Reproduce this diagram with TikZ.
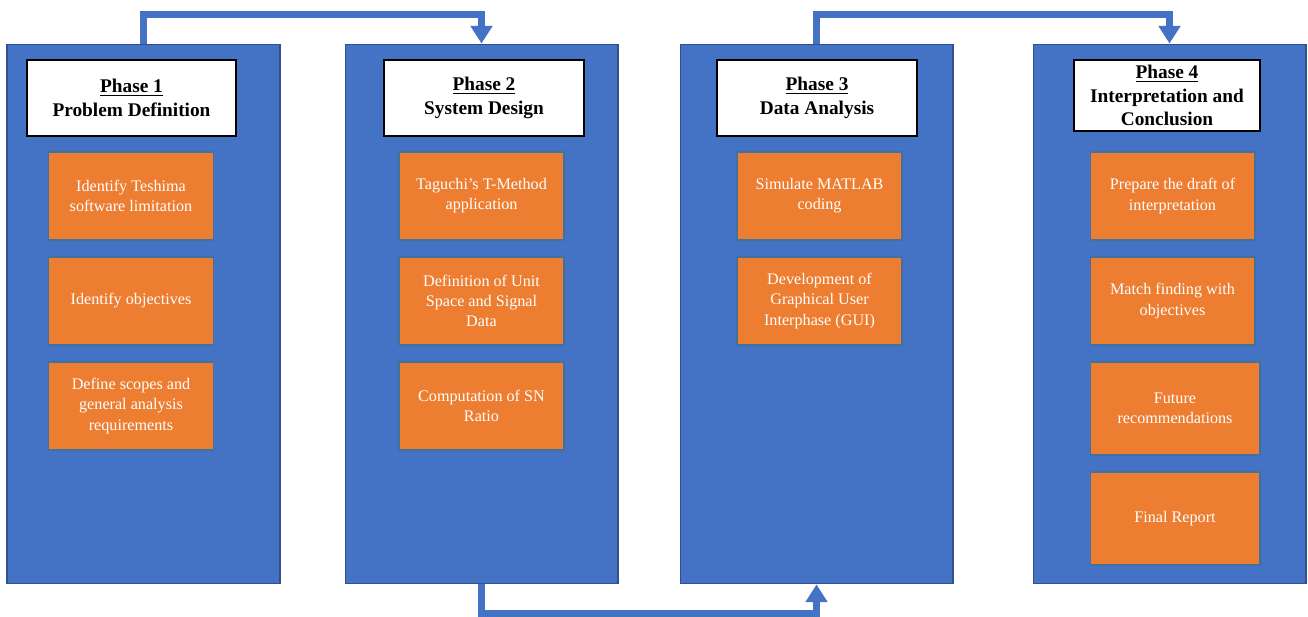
\documentclass[tikz,border=0pt]{standalone}
\usepackage{fontspec}
\setmainfont{Liberation Serif}
\usetikzlibrary{arrows.meta}
\definecolor{phaseblue}{HTML}{4472C4}
\definecolor{phaseedge}{HTML}{2F528F}
\definecolor{taskorange}{HTML}{ED7D31}
\definecolor{taskedge}{HTML}{41719C}

\begin{document}
\begin{tikzpicture}[x=.02cm,y=-.02cm,
  panel/.style={fill=phaseblue,draw=phaseedge,line width=.6pt,inner sep=0pt,minimum width=5.46cm,minimum height=10.8cm},
  title/.style={fill=white,draw=black,line width=1.2pt,inner sep=0pt,minimum height=1.52cm,align=center,font=\fontsize{11}{13.3}\selectfont\bfseries},
  task/.style={fill=taskorange,draw=taskedge,line width=.6pt,inner sep=0pt,minimum width=3.3cm,minimum height=1.76cm,align=center,text=white,font=\fontsize{9.2}{11.5}\selectfont},
  flow/.style={draw=phaseblue,line width=4pt,-{Triangle[width=12pt,length=10pt]}}]
\useasboundingbox (0,0) rectangle (1308,616);
\node[panel] (p1) at (143.5,314) {};
\node[panel] (p2) at (481.5,314) {};
\node[panel] (p3) at (816.5,314) {};
\node[panel] (p4) at (1169.5,314) {};
\node[title,minimum width=4.18cm] (t1) at (131.5,98) {\underline{Phase 1}\\Problem Definition};
\node[title,minimum width=4cm] (t2) at (484,98) {\underline{Phase 2}\\System Design};
\node[title,minimum width=4cm] (t3) at (817,98) {\underline{Phase 3}\\Data Analysis};
\node[title,minimum width=3.72cm,minimum height=1.42cm] (t4) at (1167,95.5) {\underline{Phase 4}\\Interpretation and\\Conclusion};
\node[task] (a1) at (131,196) {Identify Teshima\\software limitation};
\node[task] (a2) at (131,301) {Identify objectives};
\node[task] (a3) at (131,406) {Define scopes and\\general analysis\\requirements};
\node[task] (b1) at (481.5,196) {Taguchi's T-Method\\application};
\node[task] (b2) at (481.5,301) {Definition of Unit\\Space and Signal\\Data};
\node[task] (b3) at (481.5,406) {Computation of SN\\Ratio};
\node[task] (c1) at (819.5,196) {Simulate MATLAB\\coding};
\node[task] (c2) at (819.5,301) {Development of\\Graphical User\\Interphase (GUI)};
\node[task] (d1) at (1172.5,196) {Prepare the draft of\\interpretation};
\node[task] (d2) at (1172.5,301) {Match finding with\\objectives};
\node[task,minimum width=3.4cm,minimum height=1.86cm] (d3) at (1175,408.5) {Future\\recommendations};
\node[task,minimum width=3.4cm,minimum height=1.86cm] (d4) at (1175,518.5) {Final Report};
\draw[flow] (p1.north) -- ++(0,-29) -| (p2.north);
\draw[flow] (p2.south) -- ++(0,29) -| (p3.south);
\draw[flow] (p3.north) -- ++(0,-29) -| (p4.north);
\end{tikzpicture}
\end{document}
